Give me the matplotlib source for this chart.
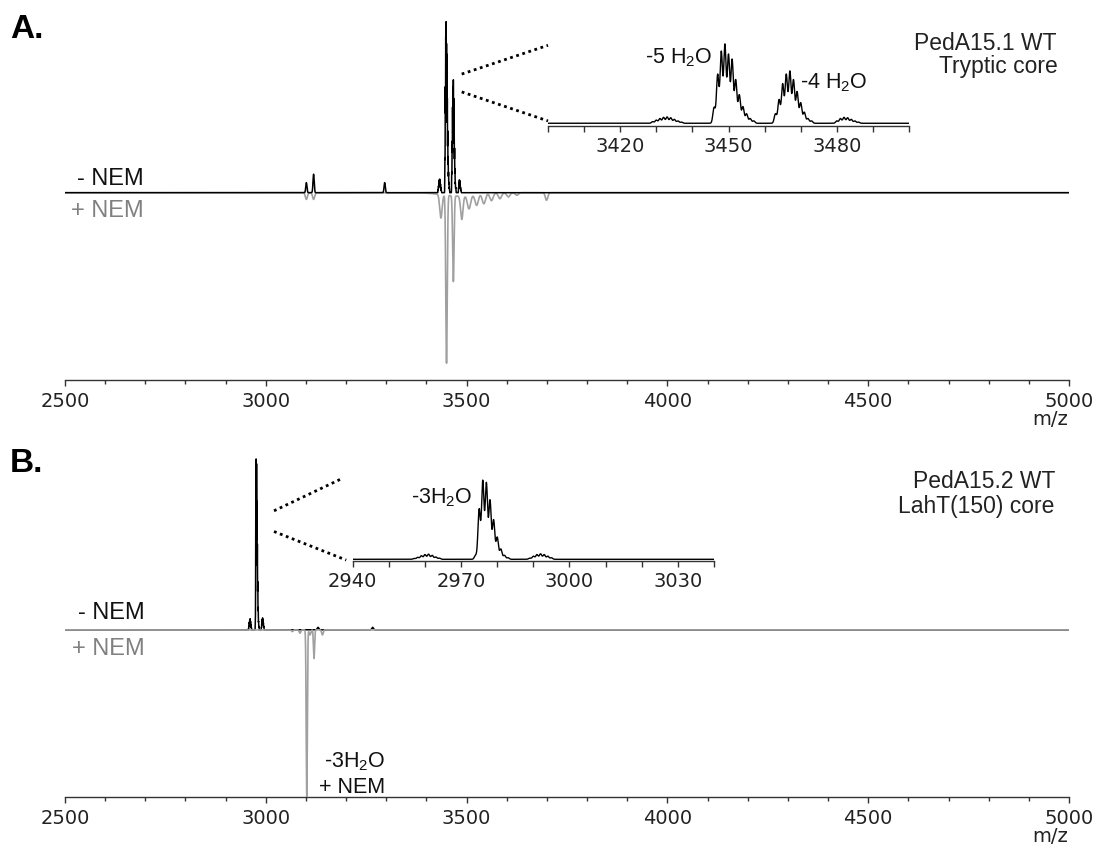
import numpy as np
import matplotlib.pyplot as plt
from matplotlib.patches import ConnectionPatch
from matplotlib.ticker import MultipleLocator, FixedLocator

plt.rcParams['font.family'] = ['DejaVu Sans']
plt.rcParams['mathtext.fontset'] = 'custom'
plt.rcParams['mathtext.rm'] = 'Liberation Sans'

# 数据: 同位素峰簇 (第一个同位素 m/z, 相对强度, 间隔 1 Da) + 单峰 (m/z, 强度, 宽度)
# A. PedA15.1 WT, - NEM
a_minus_cluster_start = [3429, 3446, 3463, 3480]
a_minus_cluster_int = [
    [0.02, 0.04, 0.06, 0.075, 0.08, 0.07, 0.05, 0.03, 0.015],
    [0.2, 0.62, 0.91, 1.0, 0.87, 0.81, 0.55, 0.36, 0.21, 0.12, 0.06, 0.03],
    [0.12, 0.3, 0.5, 0.62, 0.66, 0.55, 0.4, 0.26, 0.14, 0.06, 0.03],
    [0.03, 0.06, 0.075, 0.07, 0.05, 0.03, 0.015],
]
a_minus_peak_mz = [3101, 3119, 3296]
a_minus_peak_int = [0.06, 0.11, 0.06]
a_minus_peak_sd = [1.5, 1.5, 1.5]

# A. + NEM
a_plus_peak_mz = [3101, 3119, 3436, 3450, 3467, 3488, 3506, 3525, 3543, 3562, 3583, 3604, 3625, 3699, 3480]
a_plus_peak_int = [0.04, 0.04, 0.14, 1.0, 0.51, 0.14, 0.08, 0.065, 0.06, 0.045, 0.035, 0.025, 0.015, 0.045, 0.02]
a_plus_peak_sd = [2.5, 2.5, 3, 1.8, 1.8, 3, 4, 4, 4, 4, 4, 4, 4, 3, 40]

# B. PedA15.2 WT, - NEM
b_minus_cluster_start = [2957, 2974, 2989]
b_minus_cluster_int = [
    [0.01, 0.025, 0.045, 0.06, 0.065, 0.05, 0.03, 0.015],
    [0.05, 0.64, 1.0, 0.97, 0.75, 0.5, 0.28, 0.13, 0.05, 0.02],
    [0.015, 0.04, 0.06, 0.07, 0.06, 0.04, 0.02],
]
b_minus_peak_mz = [3130, 3266]
b_minus_peak_int = [0.015, 0.015]
b_minus_peak_sd = [2, 2]

# B. + NEM
b_plus_peak_mz = [3066, 3085, 3102, 3110, 3120, 3141]
b_plus_peak_int = [0.01, 0.02, 0.99, 0.03, 0.17, 0.03]
b_plus_peak_sd = [2, 2, 1.4, 2, 1.4, 2]

main_ticks = [2500, 3000, 3500, 4000, 4500, 5000]
inset_a_ticks = [3420, 3450, 3480]
inset_b_ticks = [2940, 2970, 3000, 3030]


def spectrum(mz, cl_start=(), cl_int=(), pk_mz=(), pk_int=(), pk_sd=(), iso_sd=0.33):
    y = np.zeros_like(mz)
    for s, ints in zip(cl_start, cl_int):
        for k, h in enumerate(ints):
            y += h * np.exp(-0.5 * ((mz - (s + k)) / iso_sd) ** 2)
    for m, h, sd in zip(pk_mz, pk_int, pk_sd):
        y += h * np.exp(-0.5 * ((mz - m) / sd) ** 2)
    return y


mz = np.arange(2500, 5000.01, 0.05)
a_minus = spectrum(mz, a_minus_cluster_start, a_minus_cluster_int,
                   a_minus_peak_mz, a_minus_peak_int, a_minus_peak_sd)
a_plus = spectrum(mz, pk_mz=a_plus_peak_mz, pk_int=a_plus_peak_int, pk_sd=a_plus_peak_sd)
b_minus = spectrum(mz, b_minus_cluster_start, b_minus_cluster_int,
                   b_minus_peak_mz, b_minus_peak_int, b_minus_peak_sd)
b_plus = spectrum(mz, pk_mz=b_plus_peak_mz, pk_int=b_plus_peak_int, pk_sd=b_plus_peak_sd)

W, H = 1101, 865
fig = plt.figure(figsize=(W / 100, H / 100), dpi=100)
GRAY = '#a0a0a0'
TXT = 'Liberation Sans'


def px_axes(l, t, r, b):
    return fig.add_axes([l / W, 1 - b / H, (r - l) / W, (b - t) / H])


def ftext(x, y, s, **kw):
    kw.setdefault('family', TXT)
    return fig.text(x / W, 1 - y / H, s, **kw)


def style_axis(ax, major, minor, maj_len, min_len):
    for side in ['left', 'top', 'right']:
        ax.spines[side].set_visible(False)
    ax.spines['bottom'].set_linewidth(1.0)
    ax.spines['bottom'].set_color('#333333')
    ax.set_yticks([])
    ax.xaxis.set_major_locator(FixedLocator(major))
    ax.xaxis.set_minor_locator(MultipleLocator(minor))
    ax.tick_params(axis='x', which='major', length=maj_len, width=1, color='#333333',
                   labelsize=14, labelcolor='#222222', pad=4)
    ax.tick_params(axis='x', which='minor', length=min_len, width=1, color='#333333')
    ax.patch.set_visible(False)


# 主图 A
axA = px_axes(65, 20, 1069, 380)
axA.plot(mz, -a_plus, color=GRAY, lw=1.2)
axA.plot(mz, a_minus, color='k', lw=1.1)
axA.set_xlim(2500, 5000)
axA.set_ylim(-1.115, 1.028)
style_axis(axA, main_ticks, 100, 4.5, 3)

# 主图 B
axB = px_axes(65, 455, 1069, 797)
axB.plot(mz, b_minus, color='k', lw=1.1)
axB.plot(mz, -b_plus, color=GRAY, lw=1.2)
axB.set_xlim(2500, 5000)
axB.set_ylim(-0.994, 1.04)
style_axis(axB, main_ticks, 100, 4.5, 3)

# 放大图 A
insA = px_axes(548, 30, 909, 126)
sel = (mz >= 3400) & (mz <= 3500)
insA.plot(mz[sel], a_minus[sel], color='k', lw=1.0)
insA.set_xlim(3400, 3500)
insA.set_ylim(-0.035, 1.196)
style_axis(insA, inset_a_ticks, 10, 4, 4)

# 放大图 B
insB = px_axes(352.7, 465, 714, 560.7)
sel = (mz >= 2940) & (mz <= 3040)
insB.plot(mz[sel], b_minus[sel], color='k', lw=1.0)
insB.set_xlim(2940, 3040)
insB.set_ylim(-0.018, 1.21)
style_axis(insB, inset_b_ticks, 10, 4, 4)

# 点线连接
for ax, ins, pairs in [
    (axA, insA, [((3487.8, 0.706), (3400, 1.0)), ((3487.8, 0.60), (3400, 0.03))]),
    (axB, insB, [((3020.4, 0.708), (2937.2, 1.04)), ((3020.4, 0.585), (2938.2, -0.01))]),
]:
    for pa, pb in pairs:
        con = ConnectionPatch(xyA=pa, coordsA=ax.transData, xyB=pb, coordsB=ins.transData,
                              linestyle=(0, (1.0, 1.3)), lw=2.0, color='k', capstyle='butt')
        fig.add_artist(con)

# 文本标签
ftext(10, 38, 'A.', fontsize=24, weight='bold', va='baseline')
ftext(10, 472, 'B.', fontsize=24, weight='bold', va='baseline')

ftext(1057, 50, 'PedA15.1 WT', fontsize=16.5, ha='right', va='baseline', color='#222222')
ftext(1058, 73, 'Tryptic core', fontsize=16.5, ha='right', va='baseline', color='#222222')
ftext(1055, 488, 'PedA15.2 WT', fontsize=16.5, ha='right', va='baseline', color='#222222')
ftext(1054, 513, 'LahT(150) core', fontsize=16.5, ha='right', va='baseline', color='#222222')

ftext(144, 185, '- NEM', fontsize=17, ha='right', va='baseline', color='#111111')
ftext(144, 217, '+ NEM', fontsize=17, ha='right', va='baseline', color='#808080')
ftext(145, 619, '- NEM', fontsize=17, ha='right', va='baseline', color='#111111')
ftext(145, 655, '+ NEM', fontsize=17, ha='right', va='baseline', color='#808080')

ftext(712, 63, r'-5 H$_\mathregular{2}$O', fontsize=15.5, ha='right', va='baseline', color='#111111')
ftext(800, 88, r'-4 H$_\mathregular{2}$O', fontsize=15.5, ha='left', va='baseline', color='#111111')
ftext(472, 503, r'-3H$_\mathregular{2}$O', fontsize=15.5, ha='right', va='baseline', color='#111111')
ftext(385, 767, r'-3H$_\mathregular{2}$O', fontsize=15.5, ha='right', va='baseline', color='#111111')
ftext(385, 793, '+ NEM', fontsize=15.5, ha='right', va='baseline', color='#111111')

ftext(1068, 425, 'm/z', fontsize=14, ha='right', va='baseline', family='DejaVu Sans', color='#222222')
ftext(1068, 842, 'm/z', fontsize=14, ha='right', va='baseline', family='DejaVu Sans', color='#222222')

fig.savefig('out.png', dpi=100)
